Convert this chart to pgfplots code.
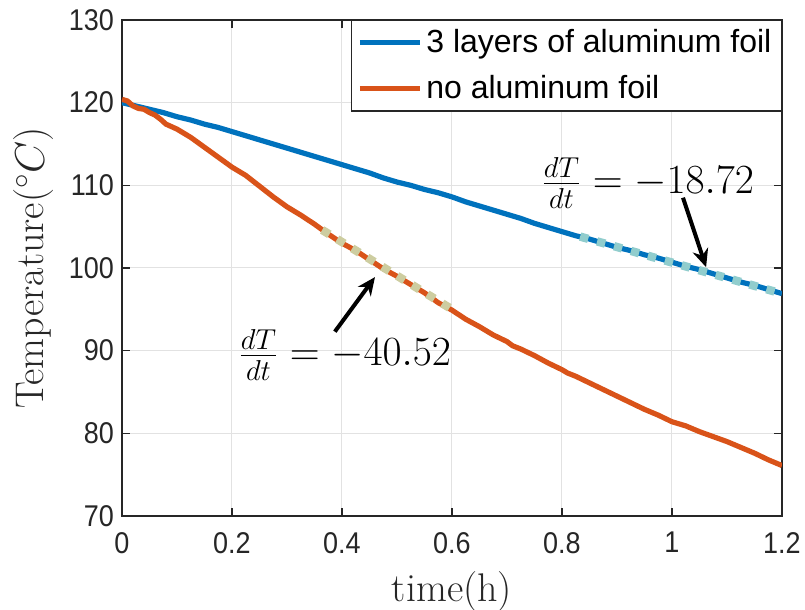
\documentclass[border=0pt]{standalone}
\usepackage{fontspec}
\setsansfont{Liberation Sans}
\newfontfamily\tickfont{Liberation Sans}[FakeStretch=0.9]
\usepackage{pgfplots}
\pgfplotsset{compat=1.18}
\usetikzlibrary{arrows.meta}
\definecolor{mblue}{RGB}{0,114,189}
\definecolor{morange}{RGB}{217,83,25}
\definecolor{bfit}{RGB}{145,205,205}
\definecolor{ofit}{RGB}{205,205,160}
\definecolor{axgray}{gray}{0.15}
\definecolor{gridgray}{RGB}{226,226,226}
\begin{document}
\begin{tikzpicture}
\path[use as bounding box] (-61pt,-47pt) rectangle (341.5pt,258pt);
\begin{axis}[
  scale only axis, width=330pt, height=248pt,
  xmin=0, xmax=1.2, ymin=70, ymax=130,
  xtick={0,0.2,0.4,0.6,0.8,1,1.2},
  xticklabels={0,0.2,0.4,0.6,0.8,1,1.2},
  ytick={70,80,90,100,110,120,130},
  grid=major, major grid style={gridgray, line width=0.5pt},
  tick align=inside, tick pos=both, major tick length=4pt,
  axis line style={axgray, line width=0.6pt},
  every tick/.style={axgray, line width=0.6pt},
  tick label style={font=\tickfont\fontsize{15}{17}\selectfont, text=axgray},
  xticklabel style={yshift=-4.5pt},
  yticklabel style={xshift=-0.5pt},
  /pgf/number format/assume math mode=true,
  xlabel={time(h)}, ylabel={Temperature($^{\circ}C$)},
  label style={font=\fontsize{20}{24}\selectfont, text=axgray},
  xlabel style={at={([yshift=-38pt]axis description cs:0.5,0)}, anchor=center},
  ylabel style={at={([xshift=-44pt]axis description cs:0,0.5)}, anchor=center},
  legend style={at={(1,1)}, anchor=north east, draw=axgray, line width=0.6pt,
    font=\sffamily\fontsize{16}{19}\selectfont, inner xsep=3pt, inner ysep=2.5pt,
    row sep=6pt, cells={anchor=west}},
  legend image code/.code={\draw[#1] (0pt,0pt) -- (30pt,0pt);},
]
\addplot[mblue, line width=2.6pt] coordinates {
(0.000,120.0) (0.025,119.6) (0.050,119.2) (0.075,118.8) (0.100,118.3)
(0.125,117.9) (0.150,117.4) (0.175,117.0) (0.200,116.5) (0.225,116.0)
(0.250,115.5) (0.275,115.0) (0.300,114.5) (0.325,114.0) (0.350,113.5)
(0.375,113.0) (0.400,112.5) (0.425,112.0) (0.450,111.5) (0.475,110.9)
(0.500,110.4) (0.525,110.0) (0.550,109.5) (0.575,109.1) (0.600,108.6)
(0.625,108.0) (0.650,107.5) (0.675,107.0) (0.700,106.5) (0.725,106.0)
(0.750,105.4) (0.775,104.9) (0.800,104.4) (0.825,103.9) (0.850,103.5)
(0.875,103.0) (0.900,102.5) (0.925,102.1) (0.950,101.6) (0.975,101.2)
(1.000,100.7) (1.025,100.2) (1.050,99.8) (1.075,99.3) (1.100,98.8)
(1.125,98.3) (1.150,97.9) (1.175,97.4) (1.200,96.9)
};
\addlegendentry{3 layers of aluminum foil}
\addplot[morange, line width=2.6pt] coordinates {
(0.000,120.4) (0.010,120.2) (0.020,119.6) (0.030,119.3) (0.040,119.2)
(0.050,118.8) (0.060,118.5) (0.070,118.0) (0.080,117.4) (0.090,117.1)
(0.100,116.8) (0.125,115.8) (0.150,114.6) (0.175,113.4) (0.200,112.2)
(0.225,111.2) (0.250,109.9) (0.275,108.6) (0.300,107.4) (0.325,106.4)
(0.350,105.3) (0.375,104.1) (0.400,103.0) (0.425,102.1) (0.450,101.0)
(0.475,99.9) (0.500,99.0) (0.525,98.0) (0.550,97.0) (0.575,95.8)
(0.600,94.9) (0.625,93.8) (0.650,92.9) (0.675,91.9) (0.700,91.1)
(0.710,90.6) (0.725,90.2) (0.750,89.4) (0.775,88.5) (0.800,87.7)
(0.810,87.3) (0.825,86.9) (0.850,86.1) (0.875,85.3) (0.900,84.5)
(0.925,83.7) (0.950,82.9) (0.975,82.2) (1.000,81.4) (1.025,80.9)
(1.050,80.2) (1.075,79.6) (1.100,79.0) (1.125,78.3) (1.150,77.6)
(1.175,76.8) (1.200,76.1)
};
\addlegendentry{no aluminum foil}
\addplot[bfit, line width=4.2pt, dash pattern=on 4.2pt off 4.6pt, forget plot] coordinates {(0.833,103.8) (1.2,96.9)};
\addplot[ofit, line width=4.2pt, dash pattern=on 4.2pt off 4.6pt, forget plot] coordinates {(0.364,104.6) (0.6,95.0)};
\node[font=\fontsize{20}{24}\selectfont] at (axis cs:0.956,110.3) {$\frac{dT}{dt}=-18.72$};
\node[font=\fontsize{20}{24}\selectfont] at (axis cs:0.405,89.5) {$\frac{dT}{dt}=-40.52$};
\draw[-{Stealth[length=9pt,width=8pt]}, line width=2pt] (axis cs:1.02,108.5) -- (axis cs:1.062,100.1);
\draw[-{Stealth[length=9pt,width=8pt]}, line width=2pt] (axis cs:0.387,92.3) -- (axis cs:0.46,98.9);
\end{axis}
\end{tikzpicture}
\end{document}
